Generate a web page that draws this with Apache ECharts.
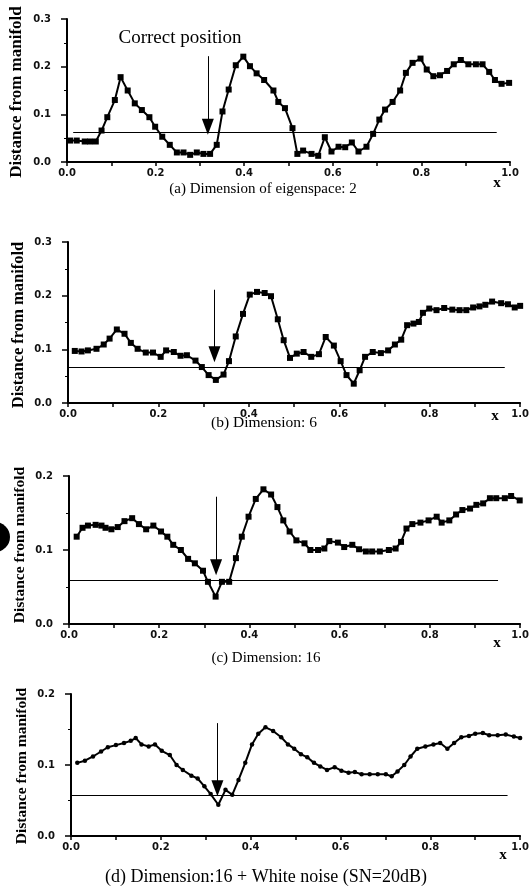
<!DOCTYPE html>
<html>
<head>
<meta charset="utf-8">
<script src="https://cdn.jsdelivr.net/npm/echarts@6/dist/echarts.min.js"></script>
<style>html,body{margin:0;padding:0;background:#fff}#c{width:532px;height:894px}</style>
</head>
<body>
<div id="c"></div>
<script>
// ---- data ----
const aX = [0.007,0.022,0.04,0.052,0.065,0.078,0.091,0.108,0.121,0.137,0.153,0.169,0.186,0.199,0.215,0.232,0.248,0.263,0.278,0.293,0.308,0.323,0.338,0.351,0.365,0.381,0.398,0.413,0.428,0.445,0.466,0.477,0.492,0.509,0.52,0.533,0.552,0.567,0.582,0.597,0.613,0.628,0.643,0.658,0.676,0.691,0.705,0.718,0.735,0.752,0.765,0.78,0.798,0.812,0.827,0.842,0.858,0.873,0.889,0.906,0.923,0.938,0.953,0.966,0.981,0.998];
const aY = [0.045,0.045,0.043,0.043,0.043,0.066,0.094,0.13,0.178,0.15,0.123,0.109,0.094,0.074,0.053,0.036,0.02,0.02,0.015,0.02,0.017,0.017,0.036,0.106,0.152,0.203,0.221,0.201,0.186,0.172,0.15,0.126,0.113,0.071,0.017,0.024,0.017,0.013,0.052,0.022,0.032,0.031,0.041,0.022,0.032,0.059,0.089,0.11,0.126,0.15,0.187,0.208,0.217,0.194,0.18,0.182,0.191,0.205,0.214,0.205,0.205,0.205,0.189,0.172,0.164,0.166];
const bX = [0.015,0.03,0.044,0.063,0.079,0.092,0.108,0.125,0.139,0.154,0.172,0.188,0.205,0.217,0.234,0.249,0.263,0.282,0.296,0.311,0.327,0.344,0.356,0.371,0.387,0.402,0.418,0.435,0.449,0.464,0.477,0.491,0.506,0.521,0.538,0.555,0.57,0.588,0.603,0.616,0.632,0.645,0.657,0.674,0.692,0.708,0.723,0.737,0.75,0.764,0.776,0.785,0.799,0.815,0.832,0.85,0.866,0.881,0.896,0.91,0.923,0.938,0.958,0.973,0.988,1.0];
const bY = [0.097,0.096,0.098,0.101,0.109,0.12,0.137,0.129,0.112,0.101,0.094,0.094,0.086,0.098,0.095,0.088,0.089,0.079,0.067,0.052,0.043,0.053,0.078,0.124,0.166,0.202,0.207,0.205,0.199,0.156,0.117,0.084,0.092,0.095,0.086,0.091,0.123,0.107,0.078,0.052,0.036,0.061,0.086,0.095,0.093,0.098,0.109,0.118,0.145,0.148,0.151,0.168,0.176,0.173,0.177,0.174,0.173,0.173,0.178,0.18,0.183,0.189,0.186,0.184,0.178,0.181];
const cX = [0.017,0.03,0.042,0.059,0.072,0.081,0.094,0.108,0.123,0.14,0.155,0.171,0.187,0.204,0.218,0.231,0.248,0.264,0.279,0.297,0.308,0.325,0.339,0.355,0.37,0.383,0.398,0.414,0.431,0.448,0.462,0.475,0.489,0.504,0.522,0.535,0.552,0.566,0.577,0.596,0.61,0.628,0.643,0.658,0.672,0.689,0.709,0.724,0.736,0.748,0.761,0.779,0.797,0.815,0.826,0.843,0.858,0.872,0.889,0.903,0.918,0.933,0.947,0.966,0.98,0.999];
const cY = [0.118,0.13,0.133,0.134,0.133,0.13,0.128,0.131,0.139,0.143,0.135,0.128,0.133,0.125,0.118,0.107,0.1,0.088,0.082,0.072,0.057,0.037,0.057,0.057,0.089,0.118,0.145,0.169,0.182,0.175,0.158,0.14,0.125,0.113,0.109,0.1,0.1,0.102,0.112,0.11,0.104,0.107,0.101,0.098,0.098,0.098,0.1,0.102,0.111,0.129,0.135,0.137,0.14,0.145,0.137,0.14,0.148,0.154,0.156,0.161,0.163,0.17,0.17,0.17,0.173,0.167];
const dX = [0.014,0.031,0.049,0.067,0.082,0.1,0.118,0.133,0.144,0.157,0.173,0.187,0.202,0.22,0.235,0.249,0.268,0.282,0.297,0.311,0.328,0.344,0.359,0.373,0.388,0.403,0.417,0.433,0.45,0.468,0.483,0.497,0.512,0.526,0.541,0.555,0.57,0.587,0.602,0.618,0.632,0.647,0.665,0.683,0.701,0.714,0.727,0.742,0.756,0.771,0.789,0.807,0.822,0.838,0.853,0.869,0.886,0.9,0.917,0.931,0.95,0.968,0.986,1.0];
const dY = [0.103,0.106,0.112,0.119,0.125,0.128,0.131,0.134,0.138,0.129,0.126,0.129,0.12,0.114,0.1,0.093,0.085,0.081,0.07,0.059,0.044,0.065,0.058,0.079,0.103,0.129,0.144,0.153,0.148,0.139,0.129,0.123,0.115,0.111,0.103,0.098,0.093,0.097,0.092,0.089,0.09,0.087,0.087,0.087,0.087,0.084,0.091,0.1,0.112,0.123,0.126,0.129,0.131,0.123,0.131,0.139,0.141,0.144,0.145,0.142,0.142,0.143,0.14,0.138];

// threshold line per panel: value, from x, to x
const thrValue = [0.063, 0.067, 0.059, 0.058];
const thrFrom = [0.014, 0.0, 0.0, 0.0];
const thrTo = [0.97, 0.966, 0.951, 0.972];
// arrow (correct position) per panel: x, top y, tip y
const arrowX = [0.318, 0.324, 0.326, 0.326];
const arrowTop = [0.222, 0.211, 0.172, 0.159];
const arrowTip = [0.057, 0.076, 0.066, 0.056];

const yMax = [0.3, 0.3, 0.2, 0.2];
const captions = ['(a) Dimension of eigenspace: 2', '(b) Dimension: 6', '(c) Dimension: 16', '(d) Dimension:16 + White noise (SN=20dB)'];
const yName = 'Distance from manifold';
const xName = 'x';
const noteText = 'Correct position';

// ---- layout ----
const grids = [
  {left: 67, top: 19, width: 443, height: 143},
  {left: 68, top: 242, width: 457, height: 161},
  {left: 69, top: 476, width: 455, height: 148},
  {left: 71, top: 694, width: 457, height: 142}
];
const captionPos = [[263, 189, 15], [264, 423, 15.5], [266, 658, 15], [266, 877, 18]];
const xNamePos = [[497, 183], [495, 416], [497, 643], [503, 855]];
const yNamePos = [[17, 92, 17], [19, 325, 16.5], [20, 545, 15.5], [22, 766, 15.5]];
const pxPerUnitY = [143/0.3, 161/0.3, 148/0.2, 142/0.2];

const serif = '"Liberation Serif", "DejaVu Serif", serif';
const tickFont = {fontFamily: '"DejaVu Sans", sans-serif', fontSize: 10, fontWeight: 'bold', color: '#111'};

const xs = [aX, bX, cX, dX];
const ys = [aY, bY, cY, dY];

const xAxis = [], yAxis = [], series = [], graphic = [];
for (let i = 0; i < 4; i++) {
  xAxis.push({
    type: 'value', gridIndex: i, min: 0, max: 1, interval: 0.1,
    axisLine: {show: true, onZero: false, lineStyle: {color: '#000', width: 2}},
    axisTick: {show: true, length: 4, lineStyle: {color: '#000', width: 1.5}},
    splitLine: {show: false},
    axisLabel: Object.assign({margin: 6, formatter: v => (Math.round(v * 10) % 2 === 0 ? v.toFixed(1) : '')}, tickFont)
  });
  yAxis.push({
    type: 'value', gridIndex: i, min: 0, max: yMax[i], interval: 0.1,
    axisLine: {show: true, onZero: false, lineStyle: {color: '#000', width: 2}},
    axisTick: {show: true, length: 6, lineStyle: {color: '#000', width: 1.5}},
    minorTick: {show: true, splitNumber: 2, length: 3, lineStyle: {color: '#000', width: 1}},
    splitLine: {show: false},
    axisLabel: Object.assign({margin: 16, formatter: v => v.toFixed(1)}, tickFont)
  });
  const pts = xs[i].map((x, k) => [x, ys[i][k]]);
  const half = 8 / pxPerUnitY[i];
  series.push({
    type: 'line', xAxisIndex: i, yAxisIndex: i, data: pts,
    symbol: i === 3 ? 'circle' : 'rect', symbolSize: i === 3 ? 4.5 : 6,
    showAllSymbol: true,
    itemStyle: {color: '#000'},
    lineStyle: {color: '#000', width: 2},
    animation: false, silent: true,
    markLine: {
      silent: true, animation: false, symbol: 'none',
      label: {show: false},
      lineStyle: {color: '#000', width: 1, type: 'solid'},
      data: [
        [{coord: [thrFrom[i], thrValue[i]]}, {coord: [thrTo[i], thrValue[i]]}],
        [{coord: [arrowX[i], arrowTop[i]], symbol: 'none'},
         {coord: [arrowX[i], arrowTip[i] + half], symbol: 'triangle', symbolSize: [12, 16]}]
      ]
    }
  });
  graphic.push({
    type: 'text', x: captionPos[i][0], y: captionPos[i][1],
    style: {text: captions[i], font: captionPos[i][2] + 'px ' + serif, fill: '#000', textAlign: 'center', textVerticalAlign: 'middle'}
  });
  graphic.push({
    type: 'text', x: xNamePos[i][0], y: xNamePos[i][1],
    style: {text: xName, font: 'bold 15px ' + serif, fill: '#000', textAlign: 'center', textVerticalAlign: 'middle'}
  });
  graphic.push({
    type: 'text', x: yNamePos[i][0], y: yNamePos[i][1], rotation: Math.PI / 2,
    style: {text: yName, font: 'bold ' + yNamePos[i][2] + 'px ' + serif, fill: '#000', textAlign: 'center', textVerticalAlign: 'middle'}
  });
}
graphic.push({
  type: 'text', x: 180, y: 38,
  style: {text: noteText, font: '19px ' + serif, fill: '#000', textAlign: 'center', textVerticalAlign: 'middle'}
});
graphic.push({type: 'circle', shape: {cx: -5, cy: 537, r: 15}, style: {fill: '#000'}});

const chart = echarts.init(document.getElementById('c'), null, {renderer: 'canvas'});
chart.setOption({
  backgroundColor: '#fff',
  animation: false,
  grid: grids,
  xAxis: xAxis,
  yAxis: yAxis,
  series: series,
  graphic: graphic
});
</script>
</body>
</html>
